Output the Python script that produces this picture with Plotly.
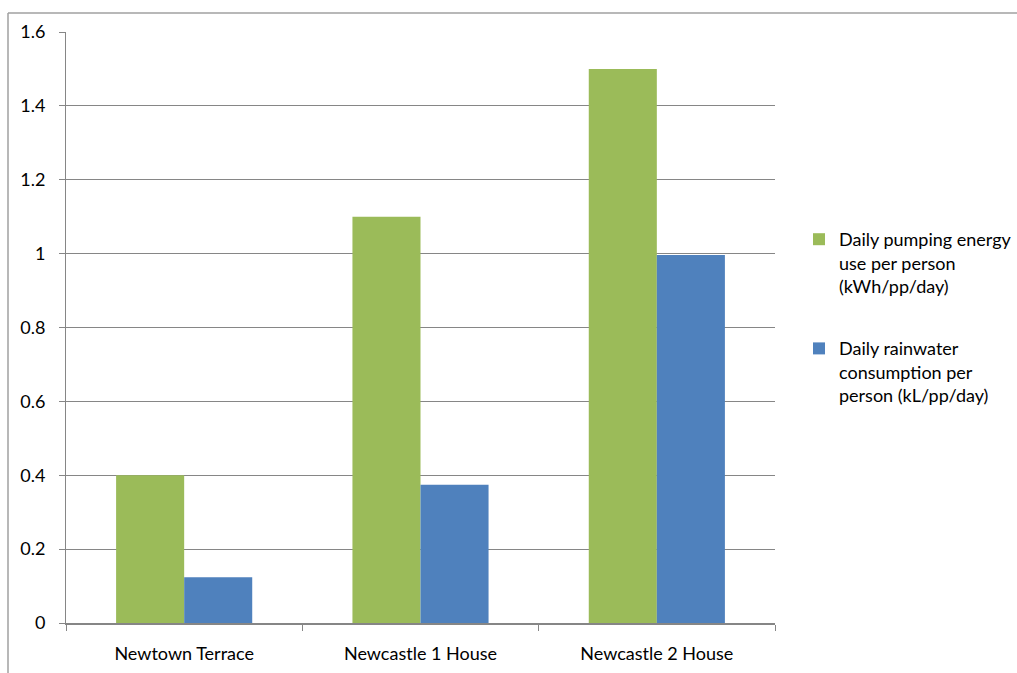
import plotly.graph_objects as go

# Sites compared
categories = ["Newtown Terrace", "Newcastle 1 House", "Newcastle 2 House"]

# Series values
energy_use = [0.40, 1.10, 1.50]          # kWh/pp/day
rainwater_use = [0.124, 0.374, 0.996]    # kL/pp/day

series_names = [
    "Daily pumping energy<br>use per person<br>(kWh/pp/day)",
    "Daily rainwater<br>consumption per<br>person (kL/pp/day)",
]

# Y axis ticks
y_ticks = [0, 0.2, 0.4, 0.6, 0.8, 1.0, 1.2, 1.4, 1.6]
y_tick_labels = ["0", "0.2", "0.4", "0.6", "0.8", "1", "1.2", "1.4", "1.6"]

GREEN = "#9BBB59"
BLUE = "#4F81BD"
GRID = "#868686"
FONT = "Lato, Calibri, Carlito, sans-serif"

fig = go.Figure()
fig.add_trace(go.Bar(x=categories, y=energy_use, name=series_names[0],
                     legendgroup="energy",
                     marker=dict(color=GREEN, line=dict(width=0))))
fig.add_trace(go.Bar(x=categories, y=rainwater_use, name=series_names[1],
                     legendgroup="water",
                     marker=dict(color=BLUE, line=dict(width=0))))

W, H = 1017, 673
ml, mr, mt, mb = 66, 242, 32, 50
pw, ph = W - ml - mr, H - mt - mb

# outer chart frame (top and left edges)
fx = (8 - ml) / pw
fy = 1 + (mt - 13) / ph
fig.add_shape(type="line", xref="paper", yref="paper", x0=fx, x1=(W + 5 - ml) / pw,
              y0=fy, y1=fy, line=dict(color="#A0A0A0", width=1.5))
fig.add_shape(type="line", xref="paper", yref="paper", x0=fx, x1=fx,
              y0=fy, y1=-(mb + 5) / ph, line=dict(color="#A0A0A0", width=1.5))

fig.update_layout(
    width=W, height=H,
    margin=dict(l=ml, r=mr, t=mt, b=mb, pad=0, autoexpand=False),
    paper_bgcolor="white", plot_bgcolor="white",
    barmode="group", bargap=0.424, bargroupgap=0,
    font=dict(family=FONT, size=18, color="black"),
    showlegend=True,
    legend=dict(x=(799 - ml) / pw, y=1 - (221 - mt) / ph,
                xanchor="left", yanchor="top",
                valign="top", tracegroupgap=36, itemwidth=30,
                font=dict(family=FONT, size=18, color="black"),
                bgcolor="rgba(0,0,0,0)"),
    xaxis=dict(showline=True, linecolor=GRID, linewidth=1.5,
               ticks="outside", tickson="boundaries", ticklen=6,
               tickcolor=GRID, showgrid=False, ticklabelstandoff=14,
               tickfont=dict(family=FONT, size=18, color="black")),
    yaxis=dict(range=[0, 1.6], tickvals=y_ticks, ticktext=y_tick_labels,
               showline=True, linecolor=GRID, linewidth=1,
               ticks="outside", ticklen=6, tickcolor=GRID,
               showgrid=True, gridcolor=GRID, gridwidth=1,
               zeroline=False, ticklabelstandoff=10,
               tickfont=dict(family=FONT, size=18, color="black")),
)

fig.write_html("out.html")
